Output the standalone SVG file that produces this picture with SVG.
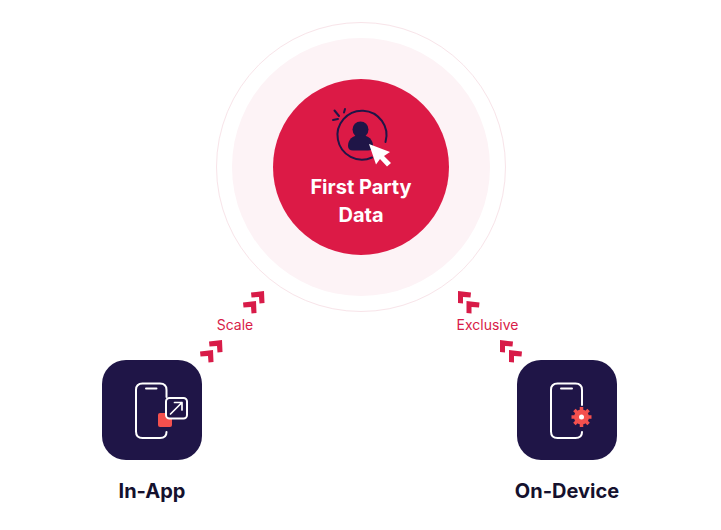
<svg xmlns="http://www.w3.org/2000/svg" width="721" height="530" viewBox="0 0 721 530">
<style>
.lab{font-family:"Inter","Lato",sans-serif;font-size:14px;fill:#d81b48;text-anchor:middle}
.title{font-family:"Inter","Lato",sans-serif;font-size:20px;font-weight:700;fill:#15112e;text-anchor:middle}
.hubt{fill:#fff}
.chev{fill:#d81b48}
.ph{fill:none;stroke:#fff;stroke-width:2;stroke-linecap:round;stroke-linejoin:round}
.dk{fill:none;stroke:#1f1547;stroke-width:2;stroke-linecap:round}
</style>
<defs>
<path id="chevR" d="M0 1.500L13 0L13.500 12L8.500 12.500L8 6L0.500 6.500Z"/>
<path id="chevL" d="M0 0L13 1.500L12.500 6.500L5 6L5 12.500L0 12Z"/>
</defs>
<rect width="721" height="530" fill="#fff"/>
<g id="hub">
<circle cx="361" cy="167" r="144.500" fill="#fff" stroke="#f8e4e9" stroke-width="1"/>
<circle cx="361" cy="167" r="129" fill="#fdf3f6"/>
<circle cx="361" cy="167" r="88" fill="#dc1a46"/>
<path class="dk" d="M385.500 142A24.500 24.500 0 1 0 372 157.500"/>
<path class="dk" d="M334.500 110.500L339 116M345 109L344 112.500M333 120L338 119"/>
<circle cx="360.500" cy="129.500" r="8" fill="#1f1547"/>
<path d="M348 146C348 140 352 135 360.500 135C369 135 373 140 373 146C373 149 371 150.500 368 150.500H353C350 150.500 348 149 348 146Z" fill="#1f1547"/>
<path d="M369 144L390 152L384 156L391 163L387 166.500L380 159L376 164.500Z" fill="#fff"/>
<text class="title hubt" x="361" y="194">First Party</text>
<text class="title hubt" x="361" y="222">Data</text>
</g>
<g id="in-app">
<rect x="102" y="360" width="100" height="100" rx="24" fill="#1f1547"/>
<path class="ph" d="M166.500 397V390Q166.500 383.500 160 383.500H142.500Q136 383.500 136 390V431.500Q136 438 142.500 438H160Q166.500 438 166.500 432"/>
<path class="ph" d="M146 388.500H156.500"/>
<rect x="158" y="413" width="14" height="14" rx="2" fill="#f4504e"/>
<rect x="166" y="398" width="21" height="20.500" rx="3.500" fill="#1f1547" stroke="#fff" stroke-width="2"/>
<path class="ph" d="M170.500 414L182 402.500M174.500 402.500H182V410" style="stroke-width:1.700"/>
<text class="title" x="152" y="498">In-App</text>
</g>
<g id="on-device">
<rect x="517" y="360" width="100" height="100" rx="24" fill="#1f1547"/>
<path class="ph" d="M582 405V390Q582 383.500 575.500 383.500H557.500Q551 383.500 551 390V431.500Q551 438 557.500 438H575.500Q582 438 582 432"/>
<path class="ph" d="M561 388.500H572"/>
<circle cx="581.500" cy="417" r="7.500" fill="#f4504e"/>
<path d="M581.500 407V427M571.500 417H591.500M574.400 409.900L588.600 424.100M588.600 409.900L574.400 424.100" fill="none" stroke="#f4504e" stroke-width="3.500"/>
<circle cx="581.500" cy="417" r="2.500" fill="#fff"/>
<text class="title" x="567" y="498">On-Device</text>
</g>
<g id="connectors" class="chev">
<use href="#chevR" x="251" y="291"/>
<use href="#chevR" x="243" y="301"/>
<use href="#chevR" x="209" y="340"/>
<use href="#chevR" x="200" y="350"/>
<use href="#chevL" x="458" y="291"/>
<use href="#chevL" x="466.500" y="301"/>
<use href="#chevL" x="500" y="340"/>
<use href="#chevL" x="509" y="350"/>
<text class="lab" x="235" y="329.500">Scale</text>
<text class="lab" x="487.500" y="329.500">Exclusive</text>
</g>
</svg>
